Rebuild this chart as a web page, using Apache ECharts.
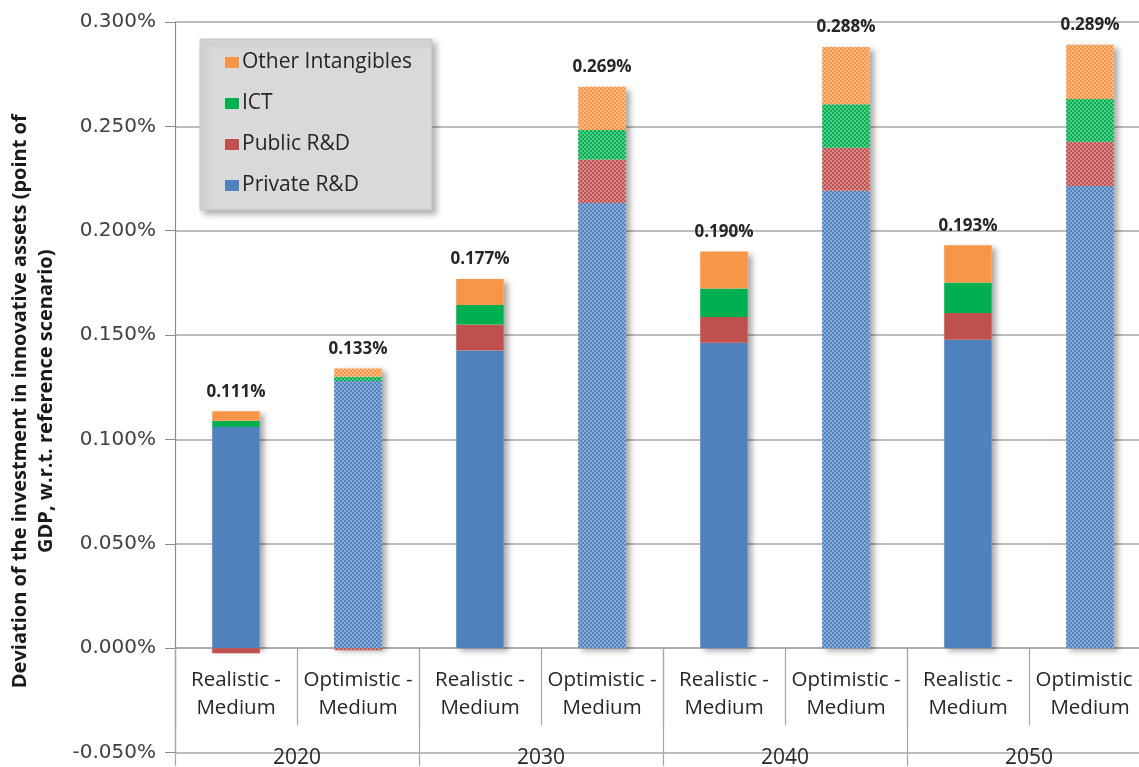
<!DOCTYPE html>
<html>
<head>
<meta charset="utf-8">
<script src="https://cdn.jsdelivr.net/npm/echarts@6/dist/echarts.min.js"></script>
<style>
html,body{margin:0;padding:0;background:#fff;}
#chart{width:1139px;height:767px;}
</style>
</head>
<body>
<div id="chart"></div>
<script>
const categories = ['Realistic -\nMedium','Optimistic -\nMedium','Realistic -\nMedium','Optimistic -\nMedium','Realistic -\nMedium','Optimistic -\nMedium','Realistic -\nMedium','Optimistic -\nMedium'];
const years = ['2020','2030','2040','2050'];
const privateRD = [0.106, 0.128, 0.1426, 0.2133, 0.1463, 0.2191, 0.1478, 0.2214];
const publicRD  = [-0.0025, -0.001, 0.0125, 0.0208, 0.0124, 0.0207, 0.0128, 0.0212];
const ict       = [0.003, 0.002, 0.0093, 0.0141, 0.0136, 0.0208, 0.0146, 0.0205];
const other     = [0.0045, 0.004, 0.0125, 0.0208, 0.0177, 0.0274, 0.0178, 0.026];
const labelTotals = ['0.111%','0.133%','0.177%','0.269%','0.190%','0.288%','0.193%','0.289%'];
const patterned = [false, true, false, true, false, true, false, true];

const colors = {priv:'#4f81bd', pub:'#c0504d', ict:'#00b050', other:'#f79646'};
const decal = {symbol:'circle', symbolSize:0.9, color:'rgba(255,255,255,0.5)', dashArrayX:[[2,2],[0,2,2,0]], dashArrayY:[2,0]};

function items(arr){
  return arr.map((v,i)=> patterned[i] ? {value:v, itemStyle:{decal:decal}} : v);
}
const posTop = privateRD.map((v,i)=>[privateRD[i],publicRD[i],ict[i],other[i]].filter(x=>x>0).reduce((a,b)=>a+b,0));

const FONT = 'Open Sans';
const BW = '39%';
const chart = echarts.init(document.getElementById('chart'));
chart.setOption({
  animation:false,
  backgroundColor:'#ffffff',
  grid:{left:175, top:22, width:976, height:730.5, containLabel:false, outerBoundsMode:'none'},
  legend:{
    orient:'vertical', left:200, top:39,
    padding:[13,20,14,25], itemGap:20, itemWidth:14, itemHeight:11, icon:'rect',
    backgroundColor:'#d9d9d9', borderColor:'#c4c4c4', borderWidth:1,
    shadowBlur:6, shadowOffsetX:4, shadowOffsetY:4, shadowColor:'rgba(0,0,0,0.3)',
    textStyle:{fontFamily:FONT, fontSize:21, color:'#262626', padding:[0,0,0,-2]},
    data:['Other Intangibles','ICT','Public R&D','Private R&D']
  },
  xAxis:[{
    type:'category', data:categories, gridIndex:0, position:'bottom',
    axisLine:{show:true, onZero:true, onZeroAxisIndex:0, lineStyle:{color:'#a6a6a6', width:1.5}},
    axisTick:{show:true, interval:0, length:77, lineStyle:{color:'#a6a6a6', width:1.2}},
    axisLabel:{interval:0, margin:-86, fontFamily:FONT, fontSize:20.5, lineHeight:28, color:'#262626'}
  },{
    type:'category', data:years, gridIndex:0, position:'bottom',
    axisLine:{show:false, onZero:true, onZeroAxisIndex:0},
    axisTick:{show:true, interval:0, length:118, lineStyle:{color:'#a6a6a6', width:1.2}},
    axisLabel:{interval:0, margin:-5, fontFamily:FONT, fontSize:21, color:'#262626'}
  }],
  yAxis:{
    type:'value', min:-0.05, max:0.3, interval:0.05,
    axisLine:{show:true, lineStyle:{color:'#8c8c8c', width:1.2}},
    axisTick:{show:true, length:10, lineStyle:{color:'#8c8c8c'}},
    splitLine:{show:true, lineStyle:{color:'#a6a6a6', width:1.5}},
    axisLabel:{margin:19, fontFamily:'DejaVu Sans', fontSize:20, color:'#404040',
      formatter:v=>v.toFixed(3)+'%'},
    name:'Deviation of the investment in innovative assets (point of\nGDP, w.r.t. reference scenario)',
    nameLocation:'middle', nameGap:116, nameRotate:90, nameMoveOverlap:false,
    nameTextStyle:{fontFamily:FONT, fontWeight:'bold', fontSize:20, lineHeight:26, color:'#1a1a1a', padding:[0,28,0,0]}
  },
  series:[
    {name:'shadow', type:'bar', data:posTop, barWidth:BW, barGap:'-100%', z:1, silent:true,
      itemStyle:{color:'#ffffff', shadowBlur:6, shadowOffsetX:4, shadowOffsetY:3, shadowColor:'rgba(0,0,0,0.35)'}},
    {name:'Private R&D', type:'bar', stack:'s', data:items(privateRD), barWidth:BW, barGap:'-100%', z:2, itemStyle:{color:colors.priv}},
    {name:'Public R&D', type:'bar', stack:'s', data:items(publicRD), barWidth:BW, barGap:'-100%', z:2, itemStyle:{color:colors.pub}},
    {name:'ICT', type:'bar', stack:'s', data:items(ict), barWidth:BW, barGap:'-100%', z:2, itemStyle:{color:colors.ict}},
    {name:'Other Intangibles', type:'bar', stack:'s', data:items(other), barWidth:BW, barGap:'-100%', z:2, itemStyle:{color:colors.other},
      label:{show:true, position:'top', distance:11, fontFamily:FONT, fontWeight:'bold', fontSize:17, color:'#262626',
        formatter:p=>labelTotals[p.dataIndex]}}
  ]
});
</script>
</body>
</html>
